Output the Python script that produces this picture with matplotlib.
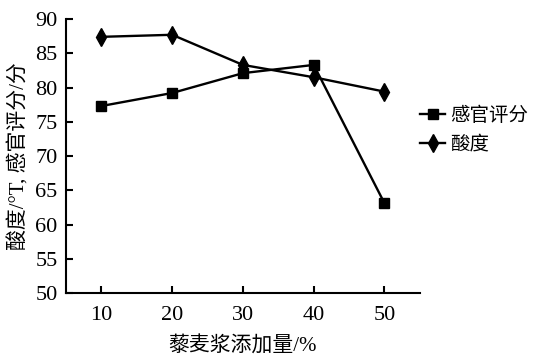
import matplotlib
matplotlib.use("Agg")
import matplotlib.pyplot as plt

plt.rcParams["font.family"] = ["Liberation Serif", "Noto Sans CJK SC"]
plt.rcParams["axes.unicode_minus"] = False

# 数据
quinoa_pct = [10, 20, 30, 40, 50]
sensory_score = [77.3, 79.2, 82.1, 83.3, 63.1]
acidity = [87.4, 87.7, 83.3, 81.5, 79.4]
y_ticks = [50, 55, 60, 65, 70, 75, 80, 85, 90]

fig = plt.figure(figsize=(5.39, 3.59), dpi=100)
ax = fig.add_axes([0.1224, 0.1838, 0.6566, 0.7632])

ax.plot(quinoa_pct, sensory_score, color="black", lw=1.7, marker="s", ms=6.5,
        label="感官评分")
ax.plot(quinoa_pct, acidity, color="black", lw=1.7, marker="d", ms=9,
        label="酸度")

ax.set_xlim(5, 55)
ax.set_ylim(50, 90)
ax.set_xticks(quinoa_pct)
ax.set_yticks(y_ticks)
ax.tick_params(direction="in", length=5, width=1.5, labelsize=16)
ax.tick_params(axis="x", pad=9)
ax.tick_params(axis="y", pad=6)
for s in ("top", "right"):
    ax.spines[s].set_visible(False)
for s in ("left", "bottom"):
    ax.spines[s].set_linewidth(1.5)

ax.set_xlabel("藜麦浆添加量/%", fontsize=15, labelpad=9)
ax.set_ylabel("酸度/°T, 感官评分/分", fontsize=15, labelpad=4)

ax.legend(loc="center left", bbox_to_anchor=(1.0, 0.595), frameon=False,
          fontsize=14, handlelength=1.3, handletextpad=0.25,
          labelspacing=0.55, borderaxespad=0, borderpad=0)

fig.savefig("out.png", dpi=100)
